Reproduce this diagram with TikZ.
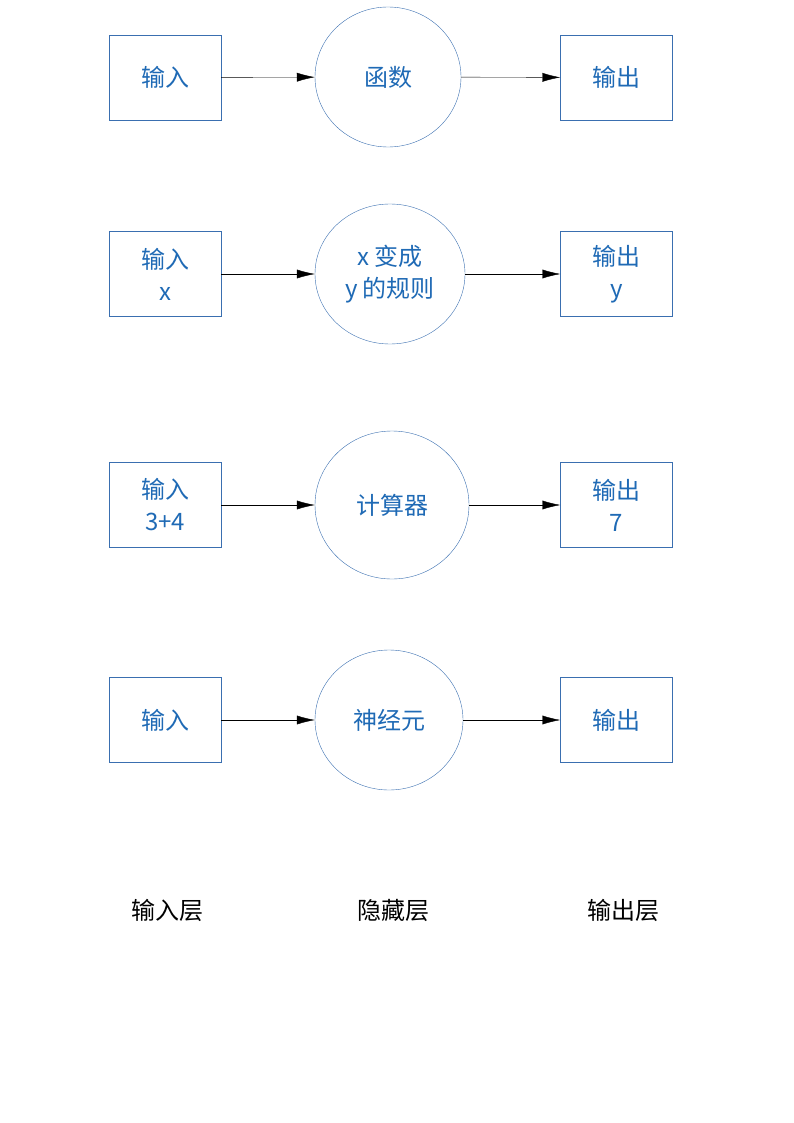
\documentclass[tikz,border=0pt]{standalone}
\usepackage{fontspec}
\setmainfont{Noto Sans CJK SC}
\usetikzlibrary{arrows.meta,shapes.geometric}
\definecolor{bl}{HTML}{3A6FB0}
\definecolor{tx}{HTML}{1F6AB5}
\tikzset{x=1pt,y=-1pt,
 bx/.style={draw=bl,minimum width=112pt,minimum height=85pt,inner sep=0pt,text=tx,align=center,font=\fontsize{24}{32}\selectfont},
 el/.style={draw=bl,ellipse,inner sep=0pt,text=tx,align=center,font=\fontsize{24}{32}\selectfont},
 ar/.style={-{Latex[length=18pt,width=9pt]},black},
 lb/.style={font=\fontsize{24}{30}\selectfont,text=black}}
\begin{document}
\begin{tikzpicture}
\useasboundingbox (0,0) rectangle (794,1123);
\node[bx] (i1) at (165,77.5) {输入};
\node[el,minimum width=146pt,minimum height=140pt] (c1) at (388,77) {函数};
\node[bx] (o1) at (616.5,77.5) {输出};
\node[bx] (i2) at (165,274) {输入\\x};
\node[el,minimum width=150pt,minimum height=140pt] (c2) at (390,274) {x 变成\\y 的规则};
\node[bx] (o2) at (616.5,274) {输出\\y};
\node[bx] (i3) at (165,505) {输入\\3+4};
\node[el,minimum width=154pt,minimum height=148pt] (c3) at (392,505) {计算器};
\node[bx] (o3) at (616.5,505) {输出\\7};
\node[bx] (i4) at (165,720) {输入};
\node[el,minimum width=148pt,minimum height=140pt] (c4) at (389,720) {神经元};
\node[bx] (o4) at (616.5,720) {输出};
\foreach \k in {1,2,3,4}{\draw[ar] (i\k) -- (c\k); \draw[ar] (c\k) -- (o\k);}
\node[lb] (l1) at (167,910) {输入层};
\node[lb] (l2) at (393,910) {隐藏层};
\node[lb] (l3) at (623,910) {输出层};
\end{tikzpicture}
\end{document}
